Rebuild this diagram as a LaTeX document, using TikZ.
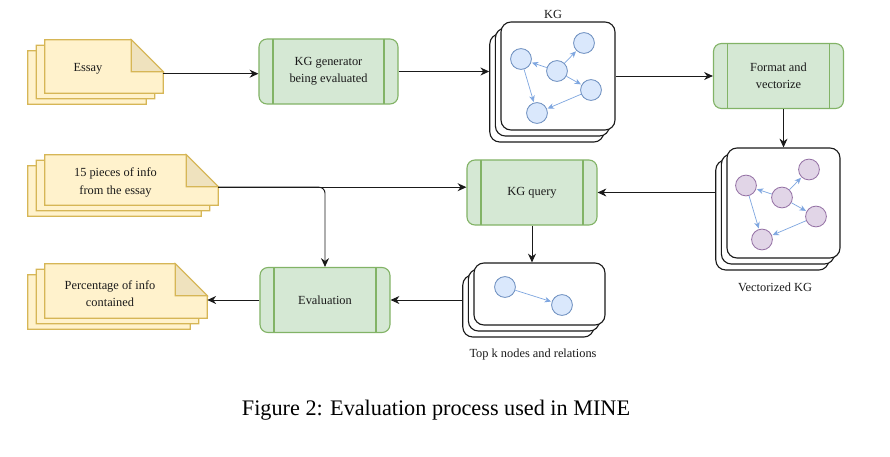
\documentclass[tikz,border=0pt]{standalone}
\usepackage{fontspec}
\setmainfont{Liberation Serif}
\usepackage{tikz}
\usetikzlibrary{positioning,arrows.meta,backgrounds,calc,shadows}
\definecolor{ink}{HTML}{1A1A1A}
\definecolor{gfill}{HTML}{D5E8D4}
\definecolor{gline}{HTML}{82B366}
\definecolor{yfill}{HTML}{FFF2CC}
\definecolor{yline}{HTML}{D6B656}
\definecolor{yfold}{HTML}{EFE2BE}
\definecolor{bfill}{HTML}{DAE8FC}
\definecolor{bline}{HTML}{6C8EBF}
\definecolor{pfill}{HTML}{E1D5E7}
\definecolor{pline}{HTML}{9673A6}
\definecolor{kgarr}{HTML}{7EA6E0}
\newcommand{\dfont}{\fontsize{8.8}{12.3}\selectfont}
\tikzset{
  proc/.style={draw=gline, line width=0.8pt, rounded corners=0.2cm, fill=gfill,
               minimum width=3.25cm, minimum height=1.625cm, align=center, font=\dfont, text=ink,
               path picture={\draw[gline, line width=0.8pt]
                 ([xshift=0.35cm]path picture bounding box.north west) -- ([xshift=0.35cm]path picture bounding box.south west)
                 ([xshift=-0.35cm]path picture bounding box.north east) -- ([xshift=-0.35cm]path picture bounding box.south east);}},
  kgbox/.style={draw=ink, line width=0.8pt, rounded corners=0.25cm, fill=white,
                copy shadow={shadow xshift=-0.28cm, shadow yshift=-0.3cm},
                copy shadow={shadow xshift=-0.14cm, shadow yshift=-0.15cm}},
  docnode/.style={rectangle, inner sep=0pt},
  docpage/.style={draw=yline, line width=0.8pt, fill=yfill},
  docfold/.style={draw=yline, line width=0.8pt, fill=yfold},
  doctext/.style={font=\dfont, align=center, text=ink, inner sep=0pt},
  kgn/.style={circle, draw=bline, fill=bfill, line width=0.6pt, minimum size=0.52cm, inner sep=0pt},
  vkn/.style={circle, draw=pline, fill=pfill, line width=0.6pt, minimum size=0.52cm, inner sep=0pt},
  kge/.style={-{Stealth[length=1.6mm,width=1.4mm]}, draw=kgarr, line width=0.5pt, shorten >=0.5pt},
  flow/.style={-{Stealth[length=2.2mm,width=2mm]}, line width=0.7pt, draw=ink},
  lbl/.style={font=\dfont, text=ink, inner sep=0pt},
  caption/.style={font=\fontsize{15.8}{19}\selectfont, text=black, inner sep=0pt},
}
% stacked document: name, x, y, width, height, text
\newcommand{\docstack}[6]{%
  \node[docnode, minimum width=#4, minimum height=#5] (#1) at (#2,#3) {};
  \coordinate (#1-f) at ([xshift=-0.8cm]#1.north east);
  \coordinate (#1-g) at ([yshift=-0.8cm]#1.north east);
  \coordinate (#1-out) at ([yshift=-0.18cm]#1.east);
  \node[doctext] (#1-txt) at ([xshift=-0.4cm,yshift=-0.06cm]#1.center) {#6};
  \begin{scope}[on background layer]
    \foreach \s in {{(-17,11)},{(-8.5,5.5)},{(0,0)}}
      \filldraw[docpage] ([shift={\s}]#1.south west) -- ([shift={\s}]#1.north west) -- ([shift={\s}]#1-f)
        -- ([shift={\s}]#1-g) -- ([shift={\s}]#1.south east) -- cycle;
    \filldraw[docfold] (#1-f) -- ([yshift=-0.8cm]#1-f) -- (#1-g) -- cycle;
  \end{scope}
}

\begin{document}
\begin{tikzpicture}[x=0.025cm, y=-0.025cm]
\useasboundingbox (0,0) rectangle (890,456);
% documents
\docstack{essay}{104}{66.5}{2.95cm}{1.325cm}{Essay}
\docstack{info}{131.5}{180}{4.325cm}{1.25cm}{15 pieces of info\\from the essay}
\docstack{pct}{126}{291}{4.05cm}{1.35cm}{Percentage of info\\contained}
% processes
\node[proc, minimum width=3.475cm] (gen) at (328.5,71.5) {KG generator\\being evaluated};
\node[proc] (fmt) at (778.5,76) {Format and\\vectorize};
\node[proc] (query) at (532,192.5) {KG query};
\node[proc] (eval) at (325,300) {Evaluation};
% graph stacks
\node[kgbox, minimum width=2.85cm, minimum height=2.7cm] (kg) at (558,76) {};
\node[kgbox, minimum width=2.825cm, minimum height=2.75cm] (vkg) at (783.5,203) {};
\node[kgbox, minimum width=3.275cm, minimum height=1.55cm] (topk) at (539.5,294) {};
\coordinate (kgin) at ([xshift=-0.28cm]kg.west);
\coordinate (vkgin) at ([xshift=-0.28cm]vkg.west);
\coordinate (topkin) at ([xshift=-0.28cm]topk.west);
\node[lbl] (kg-lbl) at (553,14) {KG};
\node[lbl] (vkg-lbl) at (775,287) {Vectorized KG};
\node[lbl] (topk-lbl) at (533,355) {Top k nodes and relations};
% mini graphs
\foreach \n/\dx/\dy in {1/-37/-17,2/-1/-5,3/26/-33,4/33/14,5/-21/37}{
  \node[kgn] (kg\n) at ([shift={(\dx,\dy)}]kg.center) {};
  \node[vkn] (vkg\n) at ([shift={(\dx-0.5,\dy-0.5)}]vkg.center) {};
}
\foreach \a/\b in {2/1,2/3,2/4,1/5,4/5}{
  \draw[kge] (kg\a) -- (kg\b);
  \draw[kge] (vkg\a) -- (vkg\b);
}
\node[kgn] (tk1) at ([shift={(-34.5,-7)}]topk.center) {};
\node[kgn] (tk2) at ([shift={(22.5,11)}]topk.center) {};
\draw[kge] (tk1) -- (tk2);
% flows
\draw[flow] (essay-out) -- (essay-out -| gen.west);
\draw[flow] (gen.east) -- (kgin |- gen.east);
\draw[flow] (kg.east) -- (kg.east -| fmt.west);
\draw[flow] (vkg.north |- fmt.south) -- (vkg.north);
\draw[flow] (vkgin |- query.east) -- (query.east);
\draw[flow] (info-out) -- (info-out -| query.west);
\draw[flow, rounded corners=0.15cm] (info-out) -| (eval.north);
\draw[flow] (query.south) -- (query.south |- topk.north);
\draw[flow] (topkin |- eval.east) -- (eval.east);
\draw[flow] (eval.west) -- (eval.west -| pct.east);
\node[caption] (cap) at (436,410) {Figure 2: Evaluation process used in MINE};
\end{tikzpicture}
\end{document}
